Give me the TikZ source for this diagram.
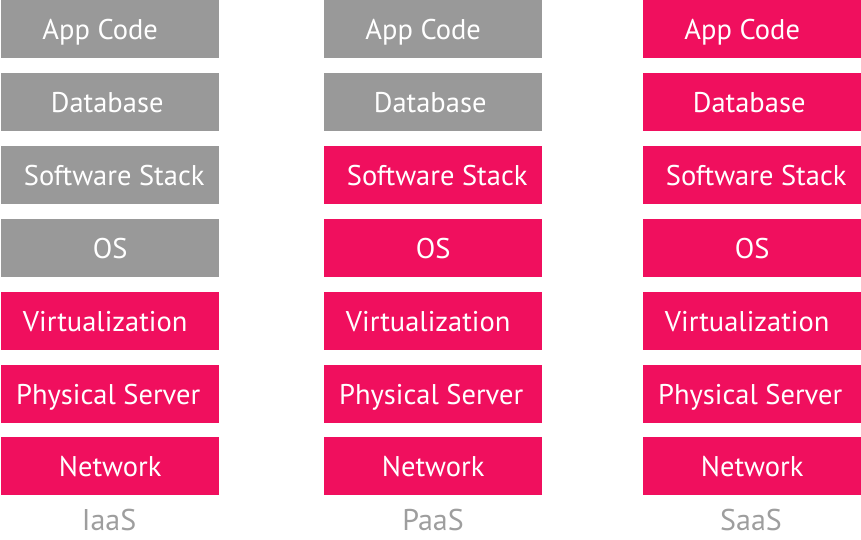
\documentclass[tikz,border=0pt]{standalone}
\usepackage{fontspec}
\setmainfont{PT Sans}
\definecolor{pinkbox}{HTML}{F00F5E}
\definecolor{graybox}{HTML}{999999}
\definecolor{labelgray}{HTML}{9E9E9E}
\begin{document}
\begin{tikzpicture}[x=1pt,y=-1pt,
  layer/.style={minimum width=218pt,minimum height=58pt,inner sep=0pt,anchor=north west,draw=none},
  on/.style={layer,fill=pinkbox},
  off/.style={layer,fill=graybox},
  txt/.style={text=white,font=\fontsize{28.5}{28.5}\selectfont,inner sep=0pt,anchor=base},
  colname/.style={text=labelgray,font=\fontsize{30}{30}\selectfont,inner sep=0pt,anchor=base}]
\useasboundingbox (0,0) rectangle (861,539);
% Column 1 (IaaS)
\node[off] (a1) at (1,0) {};
\node[off] (a2) at (1,73) {};
\node[off] (a3) at (1,146) {};
\node[off] (a4) at (1,219) {};
\node[on]  (a5) at (1,292) {};
\node[on]  (a6) at (1,365) {};
\node[on]  (a7) at (1,437) {};
% Column 2 (PaaS)
\node[off] (b1) at (324,0) {};
\node[off] (b2) at (324,73) {};
\node[on]  (b3) at (324,146) {};
\node[on]  (b4) at (324,219) {};
\node[on]  (b5) at (324,292) {};
\node[on]  (b6) at (324,365) {};
\node[on]  (b7) at (324,437) {};
% Column 3 (SaaS)
\node[on] (c1) at (643,0) {};
\node[on] (c2) at (643,73) {};
\node[on] (c3) at (643,146) {};
\node[on] (c4) at (643,219) {};
\node[on] (c5) at (643,292) {};
\node[on] (c6) at (643,365) {};
\node[on] (c7) at (643,437) {};
% texts
\foreach \p in {a,b,c}{
  \node[txt] (\p t1) at ([xshift=-10pt,yshift=-10pt]\p1.center) {App Code};
  \node[txt] (\p t2) at ([xshift=-3pt,yshift=-10pt]\p2.center) {Database};
  \node[txt] (\p t3) at ([xshift=4pt,yshift=-10pt]\p3.center) {Software Stack};
  \node[txt] (\p t4) at ([yshift=-10pt]\p4.center) {OS};
  \node[txt] (\p t5) at ([xshift=-5pt,yshift=-10pt]\p5.center) {Virtualization};
  \node[txt] (\p t6) at ([xshift=-2pt,yshift=-10pt]\p6.center) {Physical Server};
  \node[txt] (\p t7) at ([yshift=-10pt]\p7.center) {Network};
}
\node[colname] (la) at (109,530) {IaaS};
\node[colname] (lb) at (433,530) {PaaS};
\node[colname] (lc) at (751,530) {SaaS};
\end{tikzpicture}
\end{document}
